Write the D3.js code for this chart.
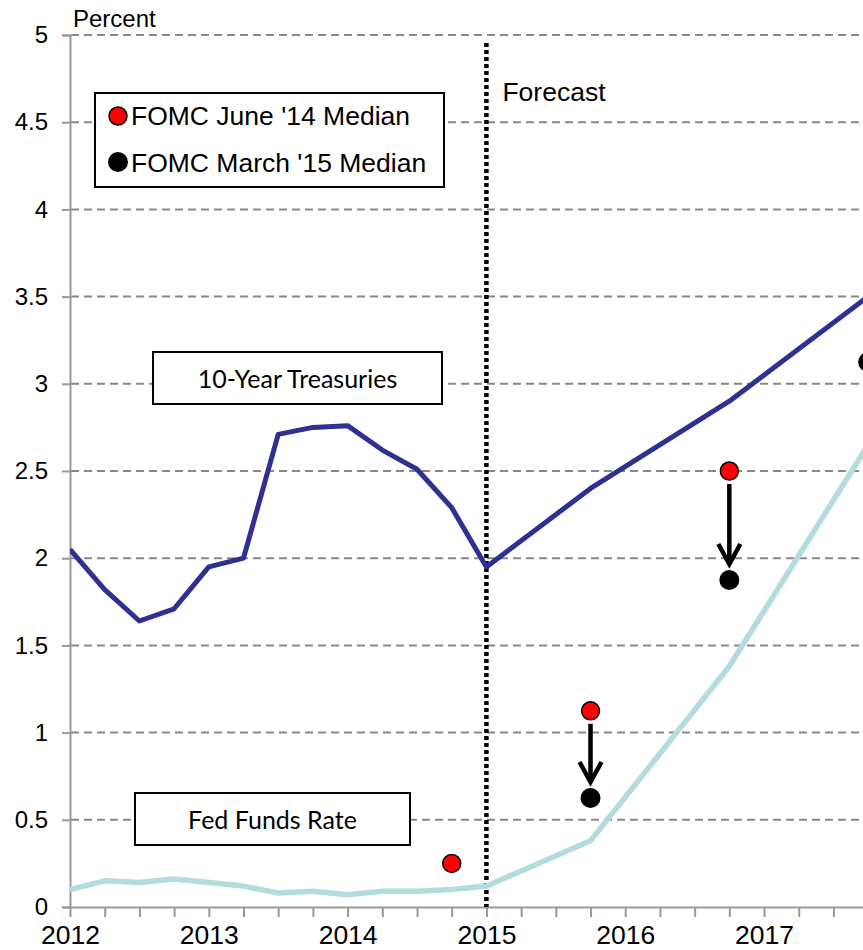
<!DOCTYPE html>
<html>
<head>
<meta charset="utf-8">
<script src="https://cdn.jsdelivr.net/npm/d3@7"></script>
<style>
  body { margin: 0; background: #fff; }
  svg { display: block; }
</style>
</head>
<body>
<div id="chart"></div>
<script>
// quarterly dates, decimal years
const histDates = [2012, 2012.25, 2012.5, 2012.75, 2013, 2013.25, 2013.5, 2013.75,
  2014, 2014.25, 2014.5, 2014.75, 2015];
const fcstDates = [2015, 2015.75, 2016.75, 2017.75];

const treasHist = [2.05, 1.82, 1.64, 1.71, 1.95, 2.0, 2.71, 2.75, 2.76, 2.62, 2.51, 2.29, 1.95];
const treasFcst = [1.95, 2.4, 2.9, 3.5];
const fedHist = [0.1, 0.15, 0.14, 0.16, 0.14, 0.12, 0.08, 0.09, 0.07, 0.09, 0.09, 0.1, 0.12];
const fedFcst = [0.12, 0.38, 1.38, 2.65];

const juneDates = [2014.75, 2015.75, 2016.75];
const juneMedian = [0.25, 1.125, 2.5];
const marchDates = [2015.75, 2016.75, 2017.75];
const marchMedian = [0.625, 1.875, 3.125];

const yTicks = [0, 0.5, 1, 1.5, 2, 2.5, 3, 3.5, 4, 4.5, 5];
const yearLabels = [2012, 2013, 2014, 2015, 2016, 2017];

const arial = "Arial, Helvetica, 'Liberation Sans', sans-serif";

const width = 863, height = 950;
const margin = { top: 35, left: 70, bottom: 43, right: 0 };
const iheight = height - margin.top - margin.bottom;

const svg = d3.select("#chart").append("svg")
  .attr("width", width).attr("height", height);

const x = d3.scaleLinear().domain([2012, 2017.713]).range([margin.left, width]);
const y = d3.scaleLinear().domain([0, 5]).range([margin.top + iheight, margin.top]);

svg.append("defs").append("clipPath").attr("id", "plot")
  .append("rect").attr("x", margin.left).attr("y", 0)
  .attr("width", width - margin.left).attr("height", height);

// grid lines
svg.append("g").selectAll("line").data(yTicks.filter(d => d > 0)).join("line")
  .attr("x1", margin.left + 1).attr("x2", width)
  .attr("y1", d => y(d)).attr("y2", d => y(d))
  .attr("stroke", "#888").attr("stroke-width", 2)
  .attr("stroke-dasharray", "8,5");

// y axis
const yAxis = svg.append("g")
  .attr("transform", `translate(${margin.left},0)`)
  .call(d3.axisLeft(y).tickValues(yTicks).tickSize(8).tickPadding(14).tickFormat(d3.format("")));
yAxis.select(".domain").attr("stroke", "#999").attr("stroke-width", 2);
yAxis.selectAll(".tick line").attr("stroke", "#999").attr("stroke-width", 2);
yAxis.selectAll("text").style("font-family", arial)
  .attr("font-size", 24).attr("fill", "#000");

// x axis
const qTicks = d3.range(0, 23).map(i => 2012 + i * 0.25);
const xAxis = svg.append("g")
  .attr("transform", `translate(0,${y(0)})`)
  .call(d3.axisBottom(x).tickValues(qTicks).tickSize(10).tickSizeOuter(0).tickPadding(8)
    .tickFormat(d => yearLabels.includes(d) ? d : ""));
xAxis.select(".domain").attr("stroke", "#999").attr("stroke-width", 2);
xAxis.selectAll(".tick line").attr("stroke", "#999").attr("stroke-width", 2);
xAxis.selectAll("text").style("font-family", arial)
  .attr("font-size", 26.5).attr("fill", "#000");

// forecast divider
svg.append("line")
  .attr("x1", x(2015)).attr("x2", x(2015))
  .attr("y1", 43).attr("y2", y(0))
  .attr("stroke", "#000").attr("stroke-width", 4.5)
  .attr("stroke-dasharray", "4,3");

svg.append("text").attr("x", x(2015) + 16).attr("y", 101)
  .style("font-family", arial).attr("font-size", 26.5)
  .text("Forecast");

svg.append("text").attr("x", 73).attr("y", 27)
  .style("font-family", arial).attr("font-size", 24)
  .text("Percent");

// lines
const line = d3.line().x(d => x(d[0])).y(d => y(d[1]));
const plot = svg.append("g").attr("clip-path", "url(#plot)");

const fedPts = d3.zip(histDates, fedHist).concat(d3.zip(fcstDates, fedFcst).slice(1));
const treasPts = d3.zip(histDates, treasHist).concat(d3.zip(fcstDates, treasFcst).slice(1));

plot.append("path").datum(fedPts).attr("d", line)
  .attr("fill", "none").attr("stroke", "#b3dcdf").attr("stroke-width", 5.5)
  .attr("stroke-linejoin", "round");
plot.append("path").datum(treasPts).attr("d", line)
  .attr("fill", "none").attr("stroke", "#2e3192").attr("stroke-width", 5)
  .attr("stroke-linejoin", "round");

// arrows from June '14 to March '15 medians
const arrows = marchDates.map((d, i) => ({ x: d, from: juneMedian[juneDates.indexOf(d)], to: marchMedian[i] }))
  .filter(a => a.from !== undefined);
const ag = plot.append("g").attr("stroke", "#000").attr("fill", "none")
  .attr("stroke-width", 4.5);
arrows.forEach(a => {
  const cx = x(a.x), y1 = y(a.from) + 13, y2 = y(a.to) - 16;
  ag.append("line").attr("x1", cx).attr("x2", cx).attr("y1", y1).attr("y2", y2 - 2);
  ag.append("path").attr("d", `M${cx - 11},${y2 - 20}L${cx},${y2}L${cx + 11},${y2 - 20}`)
    .attr("stroke-linejoin", "miter");
});

plot.append("g").selectAll("circle").data(d3.zip(juneDates, juneMedian)).join("circle")
  .attr("cx", d => x(d[0])).attr("cy", d => y(d[1])).attr("r", 9)
  .attr("fill", "#ff0000").attr("stroke", "#000").attr("stroke-width", 1.5);
plot.append("g").selectAll("circle").data(d3.zip(marchDates, marchMedian)).join("circle")
  .attr("cx", d => x(d[0])).attr("cy", d => y(d[1])).attr("r", 10)
  .attr("fill", "#000");

// legend
const lg = svg.append("g");
lg.append("rect").attr("x", 95).attr("y", 93).attr("width", 349).attr("height", 94)
  .attr("fill", "#fff").attr("stroke", "#000").attr("stroke-width", 2);
lg.append("circle").attr("cx", 118).attr("cy", 116).attr("r", 9)
  .attr("fill", "#ff0000").attr("stroke", "#000").attr("stroke-width", 1.5);
lg.append("circle").attr("cx", 118).attr("cy", 162).attr("r", 10).attr("fill", "#000");
lg.selectAll("text").data(["FOMC June '14 Median", "FOMC March '15 Median"]).join("text")
  .attr("x", 131).attr("y", (d, i) => 125 + i * 47)
  .style("font-family", arial).attr("font-size", 26.5)
  .text(d => d);

// series labels
const labels = [
  { text: "10-Year Treasuries", x: 153, y: 352, w: 289, h: 52 },
  { text: "Fed Funds Rate", x: 135, y: 793, w: 275, h: 52 }
];
const lb = svg.append("g").selectAll("g").data(labels).join("g");
lb.append("rect").attr("x", d => d.x).attr("y", d => d.y)
  .attr("width", d => d.w).attr("height", d => d.h)
  .attr("fill", "#fff").attr("stroke", "#000").attr("stroke-width", 2);
lb.append("text").attr("x", d => d.x + d.w / 2).attr("y", d => d.y + 36)
  .attr("text-anchor", "middle")
  .style("font-family", "Lato, 'Open Sans', sans-serif").attr("font-size", 25)
  .text(d => d.text);
</script>
</body>
</html>
